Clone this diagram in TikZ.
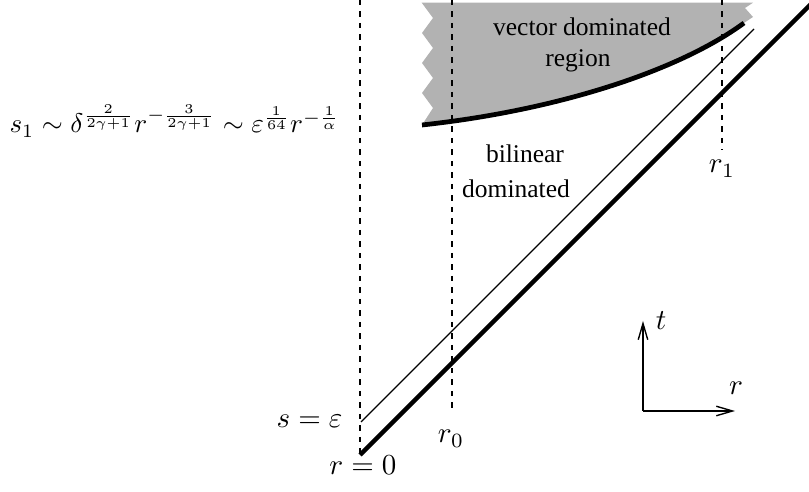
\documentclass[tikz,border=0pt]{standalone}
\usepackage{graphicx}
\usepackage{fontspec}
\newfontfamily\tms{Liberation Serif}
\usetikzlibrary{arrows.meta}
\newcommand{\mlab}[1]{\scalebox{1.16}{$#1$}}
\begin{document}
\begin{tikzpicture}[x=0.4pt,y=-0.4pt,
  dashline/.style={line width=0.42pt, dash pattern=on 2.2pt off 2.4pt},
  thickline/.style={line width=1.7pt},
  thinline/.style={line width=0.45pt},
  bordercurve/.style={line width=1.9pt},
  axisline/.style={line width=0.55pt,-{Straight Barb[length=6.5pt,width=3.8pt]}},
  txt/.style={font=\tms\fontsize{10.2}{12}\selectfont, inner sep=0pt, anchor=base},
  lbl/.style={inner sep=0pt, anchor=base},
  region/.style={fill=black!30, draw=none}]
\useasboundingbox (0,0) rectangle (809,492);
\clip (0,0) rectangle (809,492);
% gray region
\path[region] (421.7,2.7) -- (433,18) -- (422,33) -- (433,48) -- (422,63) -- (433,78) -- (422,93) -- (433,108) -- (422,125)
  .. controls (560,110) and (680,70) .. (744,23) -- (753,17) -- (745,8) -- (753,2.7) -- cycle;
% coordinates
\coordinate (c0) at (422,125);
\coordinate (c1) at (744,23);
\coordinate (d0t) at (360,0);   \coordinate (d0b) at (360,455);
\coordinate (r0t) at (452,0);   \coordinate (r0b) at (452,414);
\coordinate (r1t) at (722,0);   \coordinate (r1b) at (722,150);
\coordinate (k0) at (360,455);  \coordinate (k1) at (812,3);
\coordinate (n0) at (361,422);  \coordinate (n1) at (754,29);
\coordinate (O) at (643,411);
\coordinate (T) at (643,321);
\coordinate (R) at (735,411);
% dashed verticals
\draw[dashline] (d0t) -- (d0b);
\draw[dashline] (r0t) -- (r0b);
\draw[dashline] (r1t) -- (r1b);
% boundary curve
\draw[bordercurve] (c0) .. controls (560,110) and (680,70) .. (c1);
% light cones
\draw[thickline] (k0) -- (k1);
\draw[thinline] (n0) -- (n1);
% axes
\draw[axisline] (O) -- (T);
\draw[axisline] (O) -- (R);
% labels
\node[txt] (v1) at (582,36) {vector dominated};
\node[txt] (v2) at (578,67) {region};
\node[txt] (b1) at (525,163) {bilinear};
\node[txt] (b2) at (516,198) {dominated};
\node[lbl, anchor=base west] (s1) at (9,133) {\scalebox{1.08}{$s_1\sim\delta^{\frac{2}{2\gamma+1}}r^{-\frac{3}{2\gamma+1}}\sim\varepsilon^{\frac{1}{64}}r^{-\frac{1}{\alpha}}$}};
\node[lbl, anchor=base east] (se) at (343,428) {\mlab{s=\varepsilon}};
\node[lbl] (rz) at (363,475) {\mlab{r=0}};
\node[lbl] (lr0) at (451,443) {\mlab{r_0}};
\node[lbl] (lr1) at (722,173) {\mlab{r_1}};
\node[lbl] (lt) at (661,330) {\mlab{t}};
\node[lbl] (lr) at (736,395) {\mlab{r}};
\end{tikzpicture}
\end{document}
